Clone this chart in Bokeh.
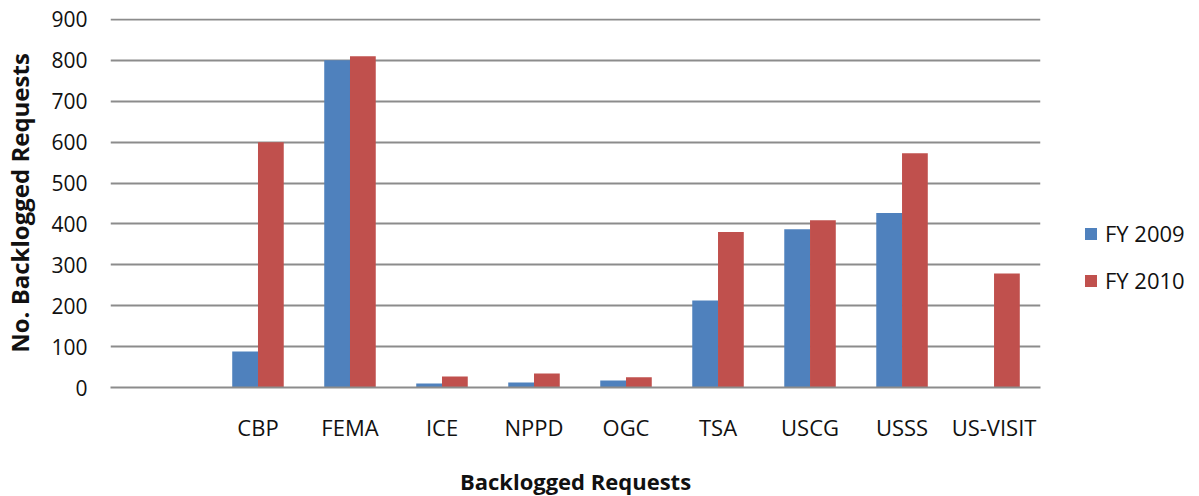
from bokeh.plotting import figure
from bokeh.models import ColumnDataSource, Range1d, FixedTicker, Legend, LegendItem
from bokeh.transform import dodge
from bokeh.embed import file_html
from bokeh.resources import INLINE

categories = ["", "CBP", "FEMA", "ICE", "NPPD", "OGC", "TSA", "USCG", "USSS", "US-VISIT"]
fy2009 = [0, 88, 800, 10, 12, 17, 213, 387, 427, 0]
fy2010 = [0, 600, 810, 27, 34, 25, 380, 409, 573, 279]
series_names = ["FY 2009", "FY 2010"]
y_ticks = [0, 100, 200, 300, 400, 500, 600, 700, 800, 900]

BLUE = "#4F81BD"
RED = "#C0504D"
GRID = "#8c8c8c"
FONT = "Open Sans"
TXT = "#111111"

pos = list(range(len(categories)))
src = ColumnDataSource(dict(x=pos, cat=categories, a=fy2009, b=fy2010))

p = figure(frame_width=930, frame_height=369,
           x_range=Range1d(-0.603, 9.505), y_range=Range1d(0, 902.4),
           output_backend="svg", toolbar_location=None,
           min_border_left=110, min_border_right=150,
           min_border_top=18, min_border_bottom=107)
p.outline_line_color = None
p.background_fill_color = "white"

r1 = p.vbar(x=dodge("x", -0.14, range=p.x_range), top="a", width=0.28, source=src,
            fill_color=BLUE, line_color=None)
r2 = p.vbar(x=dodge("x", 0.14, range=p.x_range), top="b", width=0.28, source=src,
            fill_color=RED, line_color=None)

# grid
p.xgrid.grid_line_color = None
p.ygrid.grid_line_color = GRID
p.ygrid.grid_line_width = 2
p.ygrid.ticker = FixedTicker(ticks=y_ticks)

# y axis
ya = p.yaxis[0]
ya.ticker = FixedTicker(ticks=y_ticks)
ya.axis_line_color = None
ya.major_tick_line_color = None
ya.minor_tick_line_color = None
ya.major_label_standoff = 17
ya.major_label_text_font = FONT
ya.major_label_text_font_size = "21px"
ya.major_label_text_color = TXT
ya.axis_label = "No. Backlogged Requests"
ya.axis_label_text_font = FONT
ya.axis_label_text_font_style = "bold"
ya.axis_label_text_font_size = "24px"
ya.axis_label_text_color = TXT
ya.axis_label_standoff = 12

# x axis
xa = p.xaxis[0]
xa.ticker = FixedTicker(ticks=pos)
xa.major_label_overrides = {i: c for i, c in enumerate(categories)}
xa.axis_line_color = GRID
xa.axis_line_width = 2
xa.major_tick_line_color = None
xa.minor_tick_line_color = None
xa.major_label_standoff = 18
xa.major_label_text_font = FONT
xa.major_label_text_font_size = "22px"
xa.major_label_text_color = TXT
xa.axis_label = "Backlogged Requests"
xa.axis_label_text_font = FONT
xa.axis_label_text_font_style = "bold"
xa.axis_label_text_font_size = "22px"
xa.axis_label_text_color = TXT
xa.axis_label_standoff = 21

legend = Legend(items=[LegendItem(label=series_names[0], renderers=[r1]),
                       LegendItem(label=series_names[1], renderers=[r2])],
                location=(43, 92))
legend.glyph_width = 15
legend.glyph_height = 15
legend.label_height = 26
legend.spacing = 17
legend.padding = 0
legend.margin = 0
legend.label_standoff = 7
legend.border_line_color = None
legend.background_fill_alpha = 0
legend.label_text_font = FONT
legend.label_text_font_size = "22px"
legend.label_text_color = TXT
p.add_layout(legend, "right")

open("out.html", "w").write(file_html(p, INLINE))
